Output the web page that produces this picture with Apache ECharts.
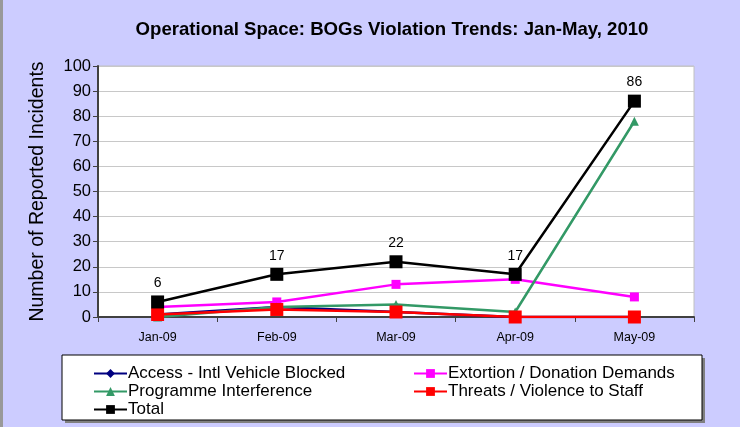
<!DOCTYPE html>
<html>
<head>
<meta charset="utf-8">
<script src="https://cdn.jsdelivr.net/npm/echarts@6/dist/echarts.min.js"></script>
<style>
  html, body { margin: 0; padding: 0; background: #CCCCFF; }
  #chart { width: 740px; height: 427px; }
</style>
</head>
<body>
<div id="chart"></div>
<script>
// categories and series
var months = ['Jan-09', 'Feb-09', 'Mar-09', 'Apr-09', 'May-09'];
var access = [1, 4, 2, 0, 0];
var extortion = [4, 6, 13, 15, 8];
var programme = [0, 4, 5, 2, 78];
var threats = [1, 3, 2, 0, 0];
var total = [6, 17, 22, 17, 86];

var font = 'Liberation Sans, Arial, sans-serif';

function lineSeries(name, data, color, symbol, size, z) {
    return {
        name: name,
        type: 'line',
        data: data,
        symbol: symbol,
        symbolSize: size,
        z: z,
        lineStyle: { color: color, width: 2.5 },
        itemStyle: { color: color },
        emphasis: { disabled: true }
    };
}

var myChart = echarts.init(document.getElementById('chart'));
var totalSeries = lineSeries('Total', total, '#000000', 'rect', 13, 6);
totalSeries.label = {
    show: true,
    position: 'top',
    distance: 5,
    color: '#000',
    fontFamily: font,
    fontSize: 14
};

var legendText = { fontFamily: font, fontSize: 17, color: '#000', padding: [0, 0, 0, -4] };

var option = {
    backgroundColor: '#CCCCFF',
    animation: false,
    title: {
        text: 'Operational Space: BOGs Violation Trends: Jan-May, 2010',
        left: 387,
        top: 15,
        textAlign: 'center',
        textStyle: { fontFamily: font, fontSize: 18.6, fontWeight: 'bold', color: '#000' }
    },
    grid: {
        left: 98, right: 46, top: 66, bottom: 110,
        show: true,
        backgroundColor: '#ffffff',
        borderColor: '#c0c0c0',
        borderWidth: 1
    },
    legend: [{
        orient: 'vertical',
        left: 88,
        top: 360,
        itemGap: 1,
        itemWidth: 33,
        itemHeight: 11,
        data: ['Access - Intl Vehicle Blocked', 'Programme Interference', 'Total'],
        textStyle: legendText
    }, {
        orient: 'vertical',
        left: 408,
        top: 360,
        itemGap: 1,
        itemWidth: 33,
        itemHeight: 11,
        data: ['Extortion / Donation Demands', 'Threats / Violence to Staff'],
        textStyle: legendText
    }],
    graphic: [{
        type: 'rect',
        z: -1,
        shape: { x: 65, y: 358, width: 640, height: 65 },
        style: { fill: '#808080' }
    }, {
        type: 'rect',
        z: -1,
        shape: { x: 62, y: 355, width: 640, height: 65 },
        style: { fill: '#ffffff', stroke: '#000000', lineWidth: 1 }
    }, {
        type: 'rect',
        shape: { x: 0, y: 0, width: 3, height: 427 },
        style: { fill: '#999999' }
    }],
    xAxis: {
        type: 'category',
        data: months,
        boundaryGap: true,
        axisLine: { lineStyle: { color: '#404040', width: 2 } },
        axisTick: { show: true, length: 5, lineStyle: { color: '#404040' } },
        axisLabel: { fontFamily: font, fontSize: 12.5, color: '#000', margin: 14 },
        splitLine: { show: false }
    },
    yAxis: {
        type: 'value',
        min: 0,
        max: 100,
        interval: 10,
        name: 'Number of Reported Incidents',
        nameLocation: 'middle',
        nameGap: 50,
        nameTextStyle: { fontFamily: font, fontSize: 19.5, color: '#000' },
        axisLine: { show: true, lineStyle: { color: '#404040', width: 2 } },
        axisTick: { show: true, length: 5, lineStyle: { color: '#404040' } },
        axisLabel: { fontFamily: font, fontSize: 16.5, color: '#000', margin: 7 },
        splitLine: { lineStyle: { color: '#c8c8c8', width: 1 } }
    },
    series: [
        lineSeries('Access - Intl Vehicle Blocked', access, '#000080', 'diamond', 8, 2),
        lineSeries('Extortion / Donation Demands', extortion, '#FF00FF', 'rect', 9, 3),
        lineSeries('Programme Interference', programme, '#339966', 'triangle', 9, 4),
        lineSeries('Threats / Violence to Staff', threats, '#FF0000', 'rect', 13, 5),
        totalSeries
    ]
};
myChart.setOption(option);
</script>
</body>
</html>
